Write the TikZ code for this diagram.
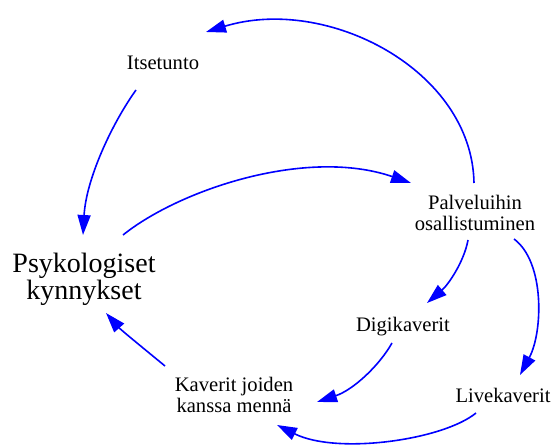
\documentclass[tikz,border=0pt]{standalone}
\usepackage{fontspec}
\setmainfont{Liberation Serif}
\newfontfamily\tnrfont{Liberation Serif}
\usetikzlibrary{arrows.meta,calc}
\begin{document}
\begin{tikzpicture}[x=1bp,y=-1bp,
  lbl/.style={align=center,inner sep=0pt,font=\tnrfont\fontsize{20.6bp}{21bp}\selectfont},
  biglbl/.style={align=center,inner sep=0pt,font=\tnrfont\fontsize{28bp}{27bp}\selectfont},
  link/.style={draw={rgb,255:red,0;green,0;blue,255},line width=1.6bp,
    -{Triangle[length=20bp,width=13bp]}}]
\useasboundingbox (0,0) rectangle (551,446);
\node[lbl] (its) at (163,63) {Itsetunto};
\node[lbl] (pal) at (475,212.5) {Palveluihin\\osallistuminen};
\node[biglbl] (psy) at (84,279) {Psykologiset\\kynnykset};
\node[lbl] (dig) at (403,327) {Digikaverit};
\node[lbl] (kav) at (234,394.5) {Kaverit joiden\\kanssa mennä};
\node[lbl] (liv) at (503,395) {Livekaverit};
% Palveluihin -> Itsetunto
\draw[link] ($(pal)+(-1,-29.5)$) .. controls (472,70) and (327,-5) .. ($(its)+(43,-31)$);
% Itsetunto -> Psykologiset
\draw[link] ($(its)+(-27,27)$) .. controls (111,125) and (86,180) .. ($(psy)+(-1,-44)$);
% Psykologiset -> Palveluihin
\draw[link] ($(psy)+(39,-44)$) .. controls (179,190) and (306,147) .. ($(pal)+(-64,-29.5)$);
% Palveluihin -> Digikaverit
\draw[link] ($(pal)+(-7,27.5)$) .. controls (464,262) and (448,285) .. ($(dig)+(24,-24)$);
% Palveluihin -> Livekaverit
\draw[link] ($(pal)+(39,26.5)$) .. controls (545,262) and (543,332) .. ($(liv)+(17,-20)$);
% Digikaverit -> Kaverit
\draw[link] ($(dig)+(-11,16)$) .. controls (379,366) and (353,390) .. ($(kav)+(83,7.5)$);
% Livekaverit -> Kaverit
\draw[link] ($(liv)+(-27,18)$) .. controls (443,440) and (337,455) .. ($(kav)+(43,30.5)$);
% Kaverit -> Psykologiset
\draw[link] ($(kav)+(-69,-28.5)$) .. controls (148,352) and (121,330) .. ($(psy)+(22,34)$);
\end{tikzpicture}
\end{document}
